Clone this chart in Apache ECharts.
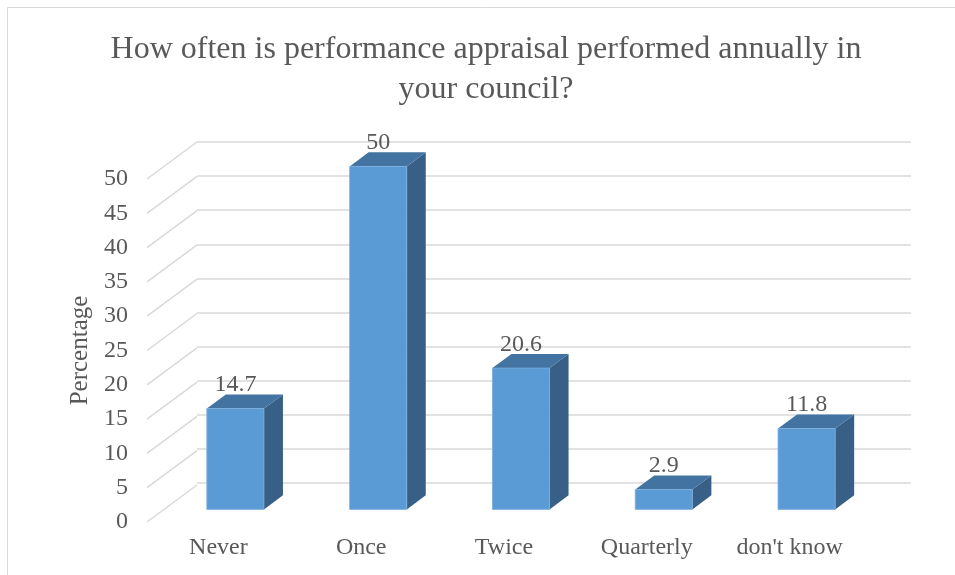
<!DOCTYPE html>
<html>
<head>
<meta charset="utf-8">
<script src="https://cdn.jsdelivr.net/npm/echarts@6/dist/echarts.min.js"></script>
<style>
  html, body { margin: 0; padding: 0; background: #ffffff; }
  #chart { width: 955px; height: 575px; }
</style>
</head>
<body>
<div id="chart"></div>
<script>
// Survey answers and their shares (%)
const categories = ['Never', 'Once', 'Twice', 'Quarterly', "don't know"];
const percentages = [14.7, 50, 20.6, 2.9, 11.8];
const yTicks = [0, 5, 10, 15, 20, 25, 30, 35, 40, 45, 50];
const chartTitle = 'How often is performance appraisal performed annually in\nyour council?';

// Pseudo-3D geometry: floor depth (px) and where the bars sit inside it
const DEPTH_X = 50;
const DEPTH_Y = 37;
const BAR_FRONT = 0.34;
const BAR_BACK = 0.72;
const BAR_WIDTH = 0.4;

const TEXT = '#595959';
const GRID = '#d9d9d9';
const FONT = 'Liberation Serif';

const chart = echarts.init(document.getElementById('chart'), null, { renderer: 'canvas' });

// Slanted side-wall lines joining each front tick to the back wall
function renderDiagonal(params, api) {
  const cs = params.coordSys;
  const y = api.coord([0, api.value(0)])[1];
  return {
    type: 'line',
    shape: { x1: cs.x, y1: y, x2: cs.x + DEPTH_X, y2: y - DEPTH_Y },
    style: { stroke: GRID, lineWidth: 1.5 }
  };
}

// Box-shaped bar: front face, right side, top face, value label
function renderBar(params, api) {
  const idx = api.value(0);
  const val = api.value(1);
  const base = api.coord([idx, 0]);
  const top = api.coord([idx, val]);
  const band = api.size([1, 0])[0];
  const w = band * BAR_WIDTH;
  const cx = base[0] + BAR_FRONT * DEPTH_X;
  const x0 = cx - w / 2, x1 = cx + w / 2;
  const yb = base[1] - BAR_FRONT * DEPTH_Y;
  const yt = top[1] - BAR_FRONT * DEPTH_Y;
  const dx = (BAR_BACK - BAR_FRONT) * DEPTH_X;
  const dy = (BAR_BACK - BAR_FRONT) * DEPTH_Y;
  return {
    type: 'group',
    children: [
      {
        type: 'polygon',
        shape: { points: [[x1, yb], [x1 + dx, yb - dy], [x1 + dx, yt - dy], [x1, yt]] },
        style: { fill: '#385f86' }
      },
      {
        type: 'polygon',
        shape: { points: [[x0, yt], [x0 + dx, yt - dy], [x1 + dx, yt - dy], [x1, yt]] },
        style: { fill: '#4273a1' }
      },
      {
        type: 'rect',
        shape: { x: x0, y: yt, width: w, height: yb - yt },
        style: { fill: '#5b9bd5', stroke: '#78aee0', lineWidth: 0.8 }
      },
      {
        type: 'text',
        z2: 10,
        style: {
          x: cx, y: yt - dy + 2.5,
          text: String(val),
          align: 'center', verticalAlign: 'bottom',
          fill: TEXT, font: '24px "' + FONT + '"'
        }
      }
    ]
  };
}

const option = {
  backgroundColor: '#ffffff',
  animation: false,
  graphic: [
    {
      type: 'rect',
      shape: { x: 7.5, y: 7.5, width: 1200, height: 1200 },
      style: { fill: 'none', stroke: GRID, lineWidth: 1 },
      silent: true
    },
    {
      // two-line chart heading
      type: 'text',
      x: 486, y: 30,
      style: {
        text: chartTitle,
        align: 'center', verticalAlign: 'top',
        fill: TEXT, font: '32px "' + FONT + '"', lineHeight: 40
      },
      silent: true
    }
  ],
  grid: [
    { left: 147, right: 94, top: 179, bottom: 53 },
    { left: 197, right: 44, top: 142, bottom: 92 }
  ],
  xAxis: [
    {
      type: 'category', gridIndex: 0, data: categories,
      axisLine: { show: false }, axisTick: { show: false },
      axisLabel: { margin: 14, color: TEXT, fontFamily: FONT, fontSize: 24 }
    },
    { type: 'category', gridIndex: 1, data: categories, show: false }
  ],
  yAxis: [
    {
      type: 'value', gridIndex: 0, min: 0, max: 50, interval: 5,
      splitLine: { show: false }, axisLine: { show: false }, axisTick: { show: false },
      axisLabel: { margin: 19, color: TEXT, fontFamily: FONT, fontSize: 24 },
      name: 'Percentage', nameLocation: 'middle', nameRotate: 90, nameGap: 53,
      nameTextStyle: { color: TEXT, fontFamily: FONT, fontSize: 25 }
    },
    {
      type: 'value', gridIndex: 1, min: 0, max: 50, interval: 5,
      axisLine: { show: false }, axisTick: { show: false }, axisLabel: { show: false },
      splitLine: { show: true, lineStyle: { color: GRID, width: 1.5 } }
    }
  ],
  series: [
    {
      type: 'custom', xAxisIndex: 0, yAxisIndex: 0,
      data: yTicks.map(v => [v]),
      encode: { y: 0 },
      renderItem: renderDiagonal,
      silent: true, z: 1
    },
    {
      type: 'custom', xAxisIndex: 0, yAxisIndex: 0,
      data: percentages.map((v, i) => [i, v]),
      encode: { x: 0, y: 1 },
      renderItem: renderBar,
      z: 3
    }
  ]
};

chart.setOption(option);
</script>
</body>
</html>
